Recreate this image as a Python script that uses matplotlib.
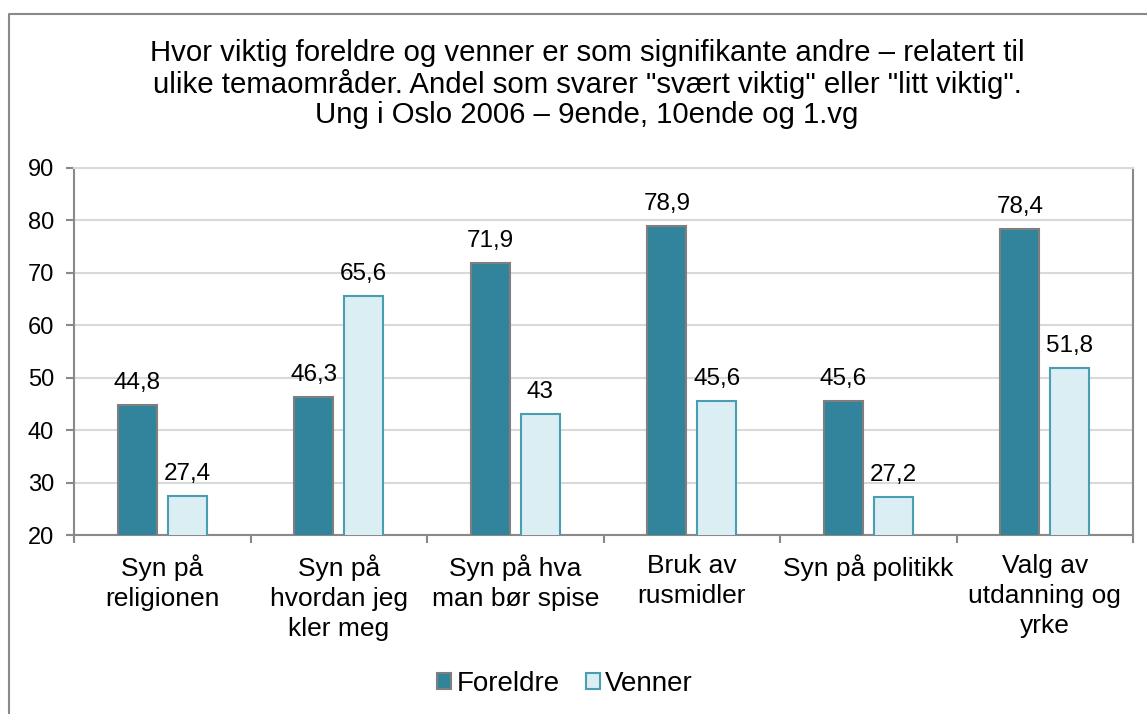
import matplotlib.pyplot as plt
from matplotlib.lines import Line2D
import numpy as np

categories = ["Syn på\nreligionen", "Syn på\nhvordan jeg\nkler meg", "Syn på hva\nman bør spise",
              "Bruk av\nrusmidler", "Syn på politikk", "Valg av\nutdanning og\nyrke"]
foreldre = [44.8, 46.3, 71.9, 78.9, 45.6, 78.4]
venner = [27.4, 65.6, 43, 45.6, 27.2, 51.8]
series_names = ["Foreldre", "Venner"]
title = ("Hvor viktig foreldre og venner er som signifikante andre – relatert til\n"
         "ulike temaområder. Andel som svarer \"svært viktig\" eller \"litt viktig\".\n"
         "Ung i Oslo 2006 – 9ende, 10ende og 1.vg")

plt.rcParams['font.family'] = ['Liberation Sans', 'DejaVu Sans']
grey = "#898989"

fig = plt.figure(figsize=(11.47, 7.14), dpi=100)
ax = fig.add_axes([74 / 1147, 1 - 535 / 714, (1133 - 74) / 1147, (535 - 168) / 714])

x = np.arange(len(categories))
off, w = 0.141, 0.22
b1 = ax.bar(x - off, foreldre, w, color="#31849B", edgecolor="#7F7F7F", linewidth=1.5,
            label=series_names[0], zorder=3)
b2 = ax.bar(x + off, venner, w, color="#DAEEF3", edgecolor="#4A9DB3", linewidth=1.5,
            label=series_names[1], zorder=3)

def fmt(v):
    return f"{v:g}".replace(".", ",")

for bars, vals in ((b1, foreldre), (b2, venner)):
    for r, v in zip(bars, vals):
        ax.annotate(fmt(v), (r.get_x() + r.get_width() / 2, v), xytext=(0, 8),
                    textcoords="offset points", ha="center", va="bottom", fontsize=17.5)

ax.set_ylim(20, 90)
ax.set_xlim(-0.5, len(categories) - 0.5)
ax.set_yticks(range(20, 91, 10))
ax.yaxis.grid(True, color="#D9D9D9", linewidth=1.5, zorder=0)
ax.set_axisbelow(True)

ax.set_xticks(x)
ax.set_xticklabels(categories, fontsize=19, linespacing=1.3, va="top")
ax.set_xticks(np.arange(-0.5, len(categories)), minor=True)
ax.tick_params(axis="x", which="major", length=0, pad=14)
ax.tick_params(axis="x", which="minor", length=5.5, width=1.5, color=grey, direction="out")
ax.tick_params(axis="y", length=5.5, width=1.5, color=grey, labelsize=17, pad=9)

for s in ax.spines.values():
    s.set_color(grey)
    s.set_linewidth(1.5)
ax.spines["top"].set_color("#D9D9D9")

fig.text(587 / 1147, 1 - 84 / 714, title, ha="center", va="center", fontsize=21.2, linespacing=1.08)

leg = fig.legend(loc="center", bbox_to_anchor=(565 / 1147, 1 - 684 / 714), ncol=2, frameon=False,
                 fontsize=20, handlelength=0.5, handleheight=0.5, handletextpad=0.18, columnspacing=0.95)

fig.add_artist(Line2D([9 / 1147, 9 / 1147, 1.0], [0.0, 1 - 14 / 714, 1 - 14 / 714],
                      transform=fig.transFigure, color=grey, linewidth=1.5))

fig.savefig("out.png", dpi=100)
